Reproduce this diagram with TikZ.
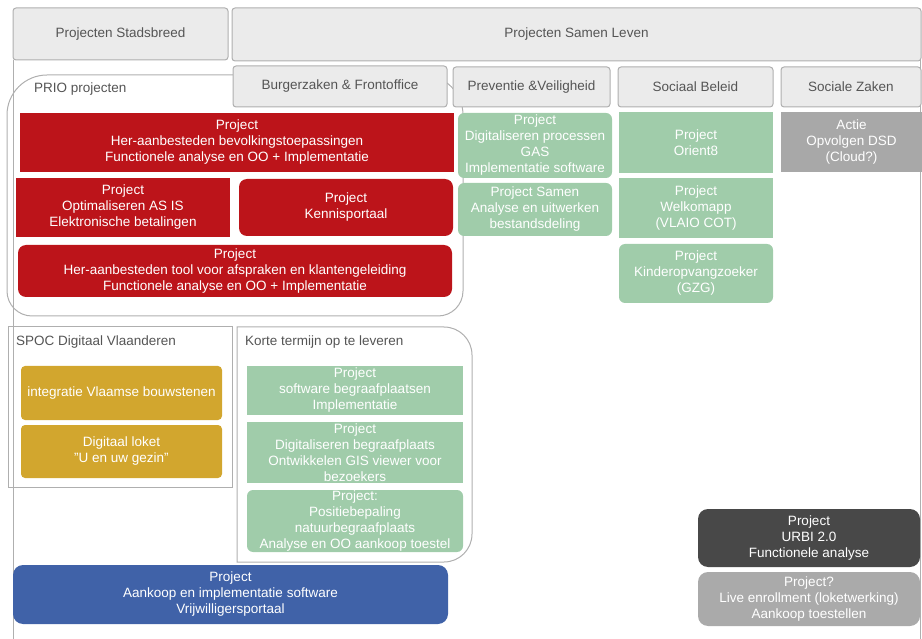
\documentclass[tikz,border=0pt]{standalone}
\usepackage{fontspec}
\setmainfont{Liberation Sans}
\definecolor{cred}{RGB}{188,20,26}
\definecolor{cgreen}{RGB}{160,204,170}
\definecolor{cyellow}{RGB}{210,166,46}
\definecolor{cblue}{RGB}{64,98,168}
\definecolor{cdark}{RGB}{72,72,72}
\definecolor{clight}{RGB}{170,170,170}
\definecolor{cmid}{RGB}{168,168,168}
\definecolor{chead}{RGB}{235,235,235}
\definecolor{cline}{RGB}{175,175,175}
\definecolor{ctext}{RGB}{85,85,85}
\newcommand\bx[7]{\node[#2, minimum width={(#5-#3)*1pt}, minimum height={(#6-#4)*1pt}] (#1) at ({(#3+#5)/2},{(#4+#6)/2}) {#7};}
\begin{document}
\begin{tikzpicture}[x=1pt,y=-1pt,
  base/.style={inner sep=0pt, align=center, font=\fontsize{13.5}{16}\selectfont},
  hdr/.style={base, fill=chead, draw=cline, line width=1pt, rounded corners=3pt, text=ctext},
  redbox/.style={base, fill=cred, text=white},
  greenbox/.style={base, fill=cgreen, text=white},
  yelbox/.style={base, fill=cyellow, text=white, rounded corners=4pt},
  graybox/.style={base, fill=cmid, text=white},
  outl/.style={draw=cline, line width=1pt},
  lbl/.style={base, text=ctext, anchor=west}]
\useasboundingbox (0,0) rectangle (922,639);
% outer frame
\draw[outl] (13,60) -- (13,639);
\draw[outl] (920,60) -- (920,639);
% PRIO outline
\draw[outl] (463,120) -- (463,290) [rounded corners=25pt] -- (463,316) -- (7,316) [rounded corners=0pt] -- (7,115) [rounded corners=40pt] -- (7,75) -- (463,75) [sharp corners] -- (463,120);
% headers
\bx{stad}{hdr}{13}{8}{228}{60}{Projecten Stadsbreed}
\bx{samen}{hdr}{232}{8}{921}{61}{Projecten Samen Leven}
\bx{burger}{hdr}{233}{66}{447}{107}{Burgerzaken \& Frontoffice}
\bx{prev}{hdr}{453}{67}{610}{107}{Preventie \&Veiligheid}
\bx{soc}{hdr}{618}{67}{773}{107}{Sociaal Beleid}
\bx{soz}{hdr}{781}{67}{921}{107}{Sociale Zaken}
\node[lbl] (prio) at (34,89) {PRIO projecten};
% red boxes
\bx{r1}{redbox}{20}{113}{454}{172}{Project\\Her-aanbesteden bevolkingstoepassingen\\Functionele analyse en OO + Implementatie}
\bx{r2}{redbox}{16}{178}{230}{237}{Project\\Optimaliseren AS IS\\Elektronische betalingen}
\bx{r3}{redbox, rounded corners=8pt}{239}{179}{453}{236}{Project\\Kennisportaal}
\bx{r4}{redbox, rounded corners=8pt}{18}{245}{452}{297}{Project\\Her-aanbesteden tool voor afspraken en klantengeleiding\\Functionele analyse en OO + Implementatie}
% green columns
\bx{p1}{greenbox, rounded corners=6pt}{458}{113}{612}{178}{Project\\Digitaliseren processen\\GAS\\Implementatie software}
\bx{p2}{greenbox, rounded corners=6pt}{458}{183}{612}{236}{Project Samen\\Analyse en uitwerken\\bestandsdeling}
\bx{s1}{greenbox}{619}{112}{773}{173}{Project\\Orient8}
\bx{s2}{greenbox}{619}{178}{773}{238}{Project\\Welkomapp\\(VLAIO COT)}
\bx{s3}{greenbox, rounded corners=6pt}{619}{244}{773}{303}{Project\\Kinderopvangzoeker\\(GZG)}
\bx{z1}{graybox}{781}{112}{922}{172}{Actie\\Opvolgen DSD\\(Cloud?)}
% SPOC
\draw[outl] (8,327) rectangle (232,487);
\node[lbl] (spoc) at (16,342) {SPOC Digitaal Vlaanderen};
\bx{y1}{yelbox}{21}{366}{222}{420}{integratie Vlaamse bouwstenen}
\bx{y2}{yelbox}{21}{425}{222}{478}{Digitaal loket\\\char"0022U en uw gezin\char"0022}
% Korte termijn
\draw[outl] (237,327) [rounded corners=28pt] -- (472,327) -- (472,562) [rounded corners=0pt] -- (237,562) -- cycle;
\node[lbl] (korte) at (245,342) {Korte termijn op te leveren};
\bx{k1}{greenbox}{247}{366}{463}{415}{Project\\software begraafplaatsen\\Implementatie}
\bx{k2}{greenbox}{247}{422}{463}{483}{Project\\Digitaliseren begraafplaats\\Ontwikkelen GIS viewer voor\\bezoekers}
\bx{k3}{greenbox, rounded corners=6pt}{247}{490}{463}{552}{Project:\\Positiebepaling\\natuurbegraafplaats\\Analyse en OO aankoop toestel}
% bottom
\bx{blue}{base, fill=cblue, text=white, rounded corners=10pt}{13}{565}{448}{624}{Project\\Aankoop en implementatie software\\Vrijwilligersportaal}
\bx{urbi}{base, fill=cdark, text=white, rounded corners=10pt}{698}{509}{920}{567}{Project\\URBI 2.0\\Functionele analyse}
\bx{live}{base, fill=clight, text=white, rounded corners=10pt}{698}{572}{920}{626}{Project?\\Live enrollment (loketwerking)\\Aankoop toestellen}
\end{tikzpicture}
\end{document}
